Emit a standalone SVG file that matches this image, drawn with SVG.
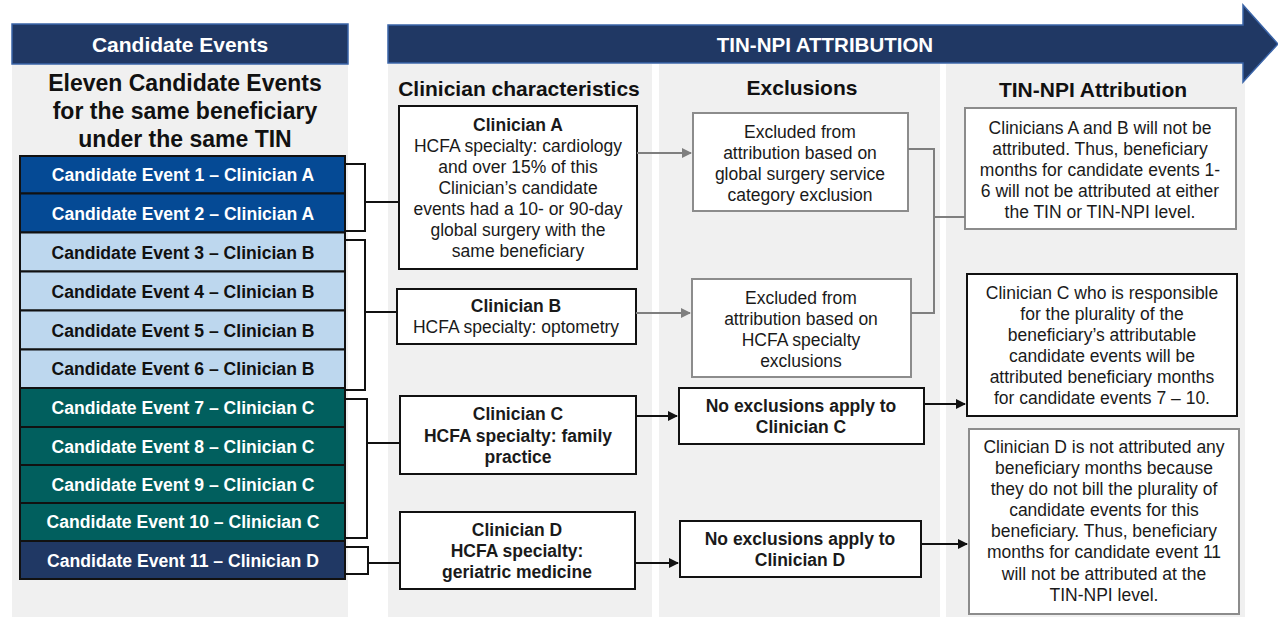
<svg xmlns="http://www.w3.org/2000/svg" width="1278" height="618" viewBox="0 0 1278 618">
<defs>
<style>
text{font-family:"Liberation Sans",Arial,sans-serif;text-anchor:middle}
.b{font-weight:bold}
.t{font-size:17.5px;fill:#1a1a1a}
.ev{font-size:17.6px;font-weight:bold}
.w{fill:#ffffff}
.k{fill:#111111}
.h{font-size:21px;font-weight:bold;fill:#111}
.box{fill:#fff;stroke:#111;stroke-width:2}
.gbox{fill:#fff;stroke:#8c8c8c;stroke-width:2}
.row{stroke:#111;stroke-width:2}
.panel{fill:#f0f0f0}
.ln{fill:none;stroke:#111;stroke-width:2}
.gln{fill:none;stroke:#7f7f7f;stroke-width:2}
</style>
<marker id="ak" viewBox="0 0 10 10" refX="9" refY="5" markerWidth="5" markerHeight="5" orient="auto" markerUnits="strokeWidth"><path d="M0,0 L10,5 L0,10 z" fill="#111"/></marker>
<marker id="ag" viewBox="0 0 10 10" refX="9" refY="5" markerWidth="5" markerHeight="5" orient="auto" markerUnits="strokeWidth"><path d="M0,0 L10,5 L0,10 z" fill="#7f7f7f"/></marker>
</defs>
<rect width="1278" height="618" fill="#fff"/>

<g id="panels">
<rect class="panel" x="12" y="64" width="336" height="553"/>
<rect class="panel" x="388" y="64" width="264" height="553"/>
<rect class="panel" x="659" y="64" width="281" height="553"/>
<rect class="panel" x="946" y="64" width="299" height="553"/>
</g>

<g id="header-candidate">
<rect x="12" y="24" width="336" height="40" fill="#203864" stroke="#3a64a8" stroke-width="1.5"/>
<text class="b w" x="180" y="52" font-size="21">Candidate Events</text>
</g>

<g id="header-arrow">
<path d="M388,25 H1243 V5 L1278,44 L1243,82 V63 H388 Z" fill="#203864" stroke="#3a64a8" stroke-width="1.5"/>
<text class="b w" x="825" y="52" font-size="20.5">TIN-NPI ATTRIBUTION</text>
</g>

<g id="title-left">
<text class="b k" font-size="23" x="185" y="91">Eleven Candidate Events</text>
<text class="b k" font-size="23" x="185" y="119">for the same beneficiary</text>
<text class="b k" font-size="23" x="185" y="147">under the same TIN</text>
</g>

<g id="column-headers">
<text class="h" x="519" y="96">Clinician characteristics</text>
<text class="h" x="802" y="95">Exclusions</text>
<text class="h" x="1093" y="97">TIN-NPI Attribution</text>
</g>

<g id="event-1"><rect class="row" x="20" y="156" width="325" height="37.5" fill="#054a95"/><text class="ev w" x="183" y="181">Candidate Event 1 – Clinician A</text></g>
<g id="event-2"><rect class="row" x="20" y="193.5" width="325" height="39" fill="#054a95"/><text class="ev w" x="183" y="220">Candidate Event 2 – Clinician A</text></g>
<g id="event-3"><rect class="row" x="20" y="232.5" width="325" height="39" fill="#bdd7ee"/><text class="ev k" x="183" y="259">Candidate Event 3 – Clinician B</text></g>
<g id="event-4"><rect class="row" x="20" y="271.5" width="325" height="39" fill="#bdd7ee"/><text class="ev k" x="183" y="298">Candidate Event 4 – Clinician B</text></g>
<g id="event-5"><rect class="row" x="20" y="310.5" width="325" height="39" fill="#bdd7ee"/><text class="ev k" x="183" y="337">Candidate Event 5 – Clinician B</text></g>
<g id="event-6"><rect class="row" x="20" y="349.5" width="325" height="38.5" fill="#bdd7ee"/><text class="ev k" x="183" y="375">Candidate Event 6 – Clinician B</text></g>
<g id="event-7"><rect class="row" x="20" y="388" width="325" height="39" fill="#015f5e"/><text class="ev w" x="183" y="414">Candidate Event 7 – Clinician C</text></g>
<g id="event-8"><rect class="row" x="20" y="427" width="325" height="38" fill="#015f5e"/><text class="ev w" x="183" y="453">Candidate Event 8 – Clinician C</text></g>
<g id="event-9"><rect class="row" x="20" y="465" width="325" height="38" fill="#015f5e"/><text class="ev w" x="183" y="491">Candidate Event 9 – Clinician C</text></g>
<g id="event-10"><rect class="row" x="20" y="503" width="325" height="38" fill="#015f5e"/><text class="ev w" x="183" y="528">Candidate Event 10 – Clinician C</text></g>
<g id="event-11"><rect class="row" x="20" y="541" width="325" height="38" fill="#203864"/><text class="ev w" x="183" y="567">Candidate Event 11 – Clinician D</text></g>

<g id="clinician-a"><rect class="box" x="399" y="106" width="238" height="163"/>
<text class="t b" x="518" y="131">Clinician A</text>
<text class="t" x="518" y="152">HCFA specialty: cardiology</text>
<text class="t" x="518" y="173">and over 15% of this</text>
<text class="t" x="518" y="194">Clinician’s candidate</text>
<text class="t" x="518" y="215">events had a 10- or 90-day</text>
<text class="t" x="518" y="236">global surgery with the</text>
<text class="t" x="518" y="257">same beneficiary</text>
</g>
<g id="clinician-b"><rect class="box" x="397" y="289" width="239" height="55"/>
<text class="t b" x="516" y="312">Clinician B</text>
<text class="t" x="516" y="333">HCFA specialty: optometry</text>
</g>
<g id="clinician-c"><rect class="box" x="400" y="396" width="236" height="78"/>
<text class="t b" x="518" y="420">Clinician C</text>
<text class="t b" x="518" y="442">HCFA specialty: family</text>
<text class="t b" x="518" y="463">practice</text>
</g>
<g id="clinician-d"><rect class="box" x="400" y="512" width="235" height="77"/>
<text class="t b" x="517" y="536">Clinician D</text>
<text class="t b" x="517" y="557">HCFA specialty:</text>
<text class="t b" x="517" y="578">geriatric medicine</text>
</g>

<g id="exclusion-1"><rect class="gbox" x="693" y="113" width="215" height="98"/>
<text class="t" x="800" y="138">Excluded from</text>
<text class="t" x="800" y="159">attribution based on</text>
<text class="t" x="800" y="180">global surgery service</text>
<text class="t" x="800" y="201">category exclusion</text>
</g>
<g id="exclusion-2"><rect class="gbox" x="692" y="279" width="219" height="98"/>
<text class="t" x="801" y="304">Excluded from</text>
<text class="t" x="801" y="325">attribution based on</text>
<text class="t" x="801" y="346">HCFA specialty</text>
<text class="t" x="801" y="367">exclusions</text>
</g>
<g id="no-exclusion-c"><rect class="box" x="679" y="388" width="245" height="56"/>
<text class="t b" x="801" y="412">No exclusions apply to</text>
<text class="t b" x="801" y="433">Clinician C</text>
</g>
<g id="no-exclusion-d"><rect class="box" x="680" y="521" width="241" height="56"/>
<text class="t b" x="800" y="545">No exclusions apply to</text>
<text class="t b" x="800" y="566">Clinician D</text>
</g>

<g id="attribution-ab"><rect class="gbox" x="965" y="108" width="271" height="121"/>
<text class="t" x="1100" y="134">Clinicians A and B will not be</text>
<text class="t" x="1100" y="155">attributed. Thus, beneficiary</text>
<text class="t" x="1100" y="176">months for candidate events 1-</text>
<text class="t" x="1100" y="197">6 will not be attributed at either</text>
<text class="t" x="1100" y="218">the TIN or TIN-NPI level.</text>
</g>
<g id="attribution-c"><rect class="box" x="967" y="274" width="270" height="142"/>
<text class="t" x="1102" y="299">Clinician C who is responsible</text>
<text class="t" x="1102" y="320">for the plurality of the</text>
<text class="t" x="1102" y="341">beneficiary’s attributable</text>
<text class="t" x="1102" y="362">candidate events will be</text>
<text class="t" x="1102" y="383">attributed beneficiary months</text>
<text class="t" x="1102" y="404">for candidate events 7 – 10.</text>
</g>
<g id="attribution-d"><rect class="gbox" x="969" y="429" width="270" height="185"/>
<text class="t" x="1104" y="453">Clinician D is not attributed any</text>
<text class="t" x="1104" y="474">beneficiary months because</text>
<text class="t" x="1104" y="495">they do not bill the plurality of</text>
<text class="t" x="1104" y="516">candidate events for this</text>
<text class="t" x="1104" y="537">beneficiary. Thus, beneficiary</text>
<text class="t" x="1104" y="558">months for candidate event 11</text>
<text class="t" x="1104" y="580">will not be attributed at the</text>
<text class="t" x="1104" y="601">TIN-NPI level.</text>
</g>

<g id="connectors">
<path class="ln" d="M345,164 H365 V231 H345 M365,202 H399"/>
<path class="ln" d="M345,240 H365 V390 H345 M365,312 H397"/>
<path class="ln" d="M345,399 H367 V538 H345 M367,443 H400"/>
<path class="ln" d="M345,547 H368 V574 H345 M368,563 H400"/>
<path class="gln" d="M637,153 H691" marker-end="url(#ag)"/>
<path class="gln" d="M636,313 H690" marker-end="url(#ag)"/>
<path class="gln" d="M908,149 H934 V313 H911 M934,217 H965"/>
<path class="ln" d="M636,416 H677" marker-end="url(#ak)"/>
<path class="ln" d="M924,404 H965" marker-end="url(#ak)"/>
<path class="ln" d="M635,563 H678" marker-end="url(#ak)"/>
<path class="ln" d="M921,544 H967" marker-end="url(#ak)"/>
</g>
</svg>
